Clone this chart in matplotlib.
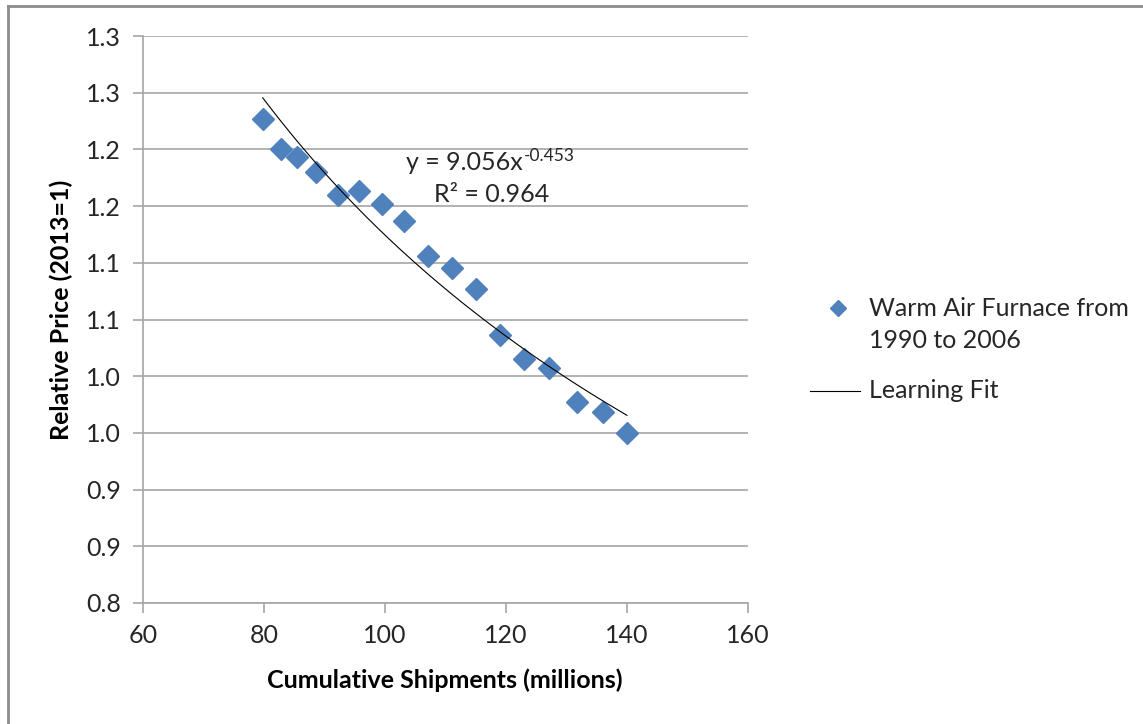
import matplotlib
matplotlib.use("Agg")
import matplotlib.pyplot as plt
from matplotlib.lines import Line2D
import numpy as np

plt.rcParams['font.family'] = ['Lato', 'DejaVu Sans']

# Cumulative shipments (millions) and relative price, 1990-2006
shipments = [79.8, 82.8, 85.5, 88.6, 92.2, 95.7, 99.5, 103.1, 107.1,
             111.1, 115.0, 119.0, 123.0, 127.1, 131.7, 136.0, 140.0]
rel_price = [1.227, 1.200, 1.193, 1.180, 1.160, 1.163, 1.152, 1.137, 1.106,
             1.095, 1.077, 1.036, 1.015, 1.007, 0.977, 0.968, 0.950]

# Power-law learning fit: y = a * x^b
fit_a = 9.056
fit_b = -0.453
fit_r2 = 0.964

xticks = [60, 80, 100, 120, 140, 160]
yticks = [0.80, 0.85, 0.90, 0.95, 1.00, 1.05, 1.10, 1.15, 1.20, 1.25, 1.30]
ytick_labels = ["0.8", "0.9", "0.9", "1.0", "1.0", "1.1", "1.1", "1.2", "1.2", "1.3", "1.3"]

series_label = "Warm Air Furnace from\n1990 to 2006"
fit_label = "Learning Fit"

W, H = 1143, 724
FS = 18
TXT = "#262626"
fig = plt.figure(figsize=(W / 100, H / 100), dpi=100)
ax = fig.add_axes([143 / W, 1 - 603 / H, (748 - 143) / W, (603 - 36) / H])

grid_col = "#A6A6A6"
blue = "#4F81BD"

ax.set_xlim(60, 160)
ax.set_ylim(0.80, 1.30)
ax.set_xticks(xticks)
ax.set_yticks(yticks)
ax.set_yticklabels(ytick_labels)
ax.set_xticklabels([str(v) for v in xticks])

ax.yaxis.grid(True, color=grid_col, linewidth=1.2)
ax.set_axisbelow(True)
for s in ["top", "right"]:
    ax.spines[s].set_visible(False)
for s in ["left", "bottom"]:
    ax.spines[s].set_color(grid_col)
    ax.spines[s].set_linewidth(1.2)
ax.tick_params(axis="both", direction="out", color=grid_col, width=1.2,
               length=7, labelsize=FS, labelcolor=TXT)
ax.tick_params(axis="y", pad=9)
ax.tick_params(axis="x", pad=8)

# Data points
ax.plot(shipments, rel_price, linestyle="none", marker="D", markersize=11,
        color=blue, markeredgecolor=blue, zorder=3)

# Trend line from the fit coefficients over the data range
xf = np.linspace(min(shipments), max(shipments), 200)
yf = fit_a * xf ** fit_b
ax.plot(xf, yf, color="black", linewidth=0.8, zorder=4)

# Fit equation with a raised exponent
eq = ax.text(122.8, 1.1885, "y = %.3fx" % fit_a, ha="right", va="center",
             fontsize=FS, color=TXT)
ax.annotate("%.3f" % fit_b, xy=(1, 1), xycoords=eq, xytext=(0.5, 2),
            textcoords="offset points", ha="left", va="top",
            fontsize=12.5, color=TXT)
ax.text(117.6, 1.1605, "R² = %.3f" % fit_r2, ha="center", va="center",
        fontsize=FS, color=TXT)

ax.set_xlabel("Cumulative Shipments (millions)", fontsize=FS, fontweight="bold",
              color="black")
ax.set_ylabel("Relative Price (2013=1)", fontsize=FS, fontweight="bold",
              color="black")
ax.xaxis.set_label_coords((445 - 143) / (748 - 143), -(680 - 603) / (603 - 36))
ax.yaxis.set_label_coords(-(143 - 61) / (748 - 143), (603 - 310) / (603 - 36))
ax.xaxis.label.set_va("center")
ax.yaxis.label.set_va("center")


def fx(px):
    return px / W


def fy(py):
    return 1 - py / H


# Legend keys and labels
fig.add_artist(Line2D([fx(838)], [fy(308)], linestyle="none", marker="D", markersize=8,
                      color=blue, transform=fig.transFigure))
for i, line in enumerate(series_label.split("\n")):
    fig.text(fx(869), fy(308 + 33 * i), line, ha="left", va="center",
             fontsize=FS, color=TXT)
fig.add_artist(Line2D([fx(810), fx(860)], [fy(391), fy(391)], color="black",
                      linewidth=0.8, transform=fig.transFigure))
fig.text(fx(869), fy(391), fit_label, ha="left", va="center", fontsize=FS, color=TXT)

# Outer chart border (top and left edges)
fig.add_artist(Line2D([fx(8), 1], [fy(6), fy(6)], color="#8C8C8C", linewidth=2,
                      transform=fig.transFigure))
fig.add_artist(Line2D([fx(8), fx(8)], [0, fy(6)], color="#8C8C8C", linewidth=2,
                      transform=fig.transFigure))

fig.savefig("out.png", dpi=100)
